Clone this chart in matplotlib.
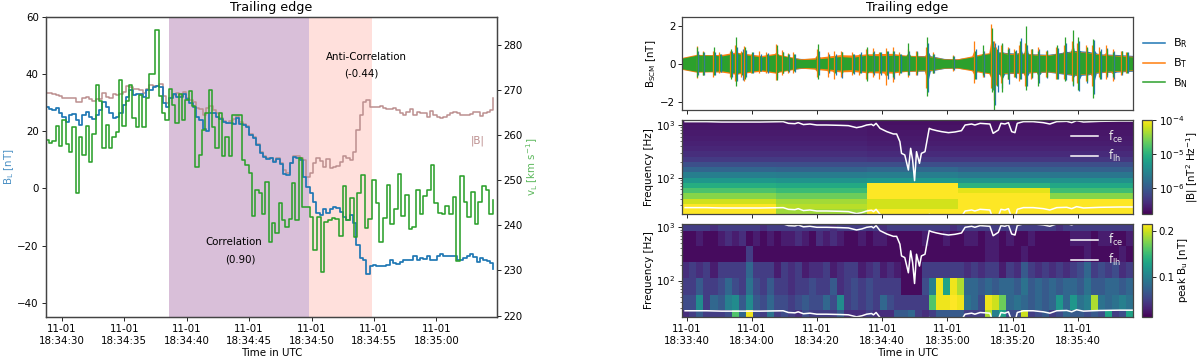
import numpy as np
import matplotlib
matplotlib.use("Agg")
import matplotlib.pyplot as plt
import matplotlib.dates as mdates
from matplotlib.colors import LogNorm, Normalize

# ---------- left panel data (seconds after 18:34:00) ----------
B_L = [28.6,27.7,27.5,28,26.3,24.9,23.4,25.7,25.9,23.9,22.2,25.7,26.9,25.1,24.2,25.7,27.4,30.4,28.6,26.3,
       24.5,25.1,26.3,29.2,32.1,34.4,32.7,32.9,33,32.1,34.4,34.6,35.6,35.8,35.4,29.8,28.4,31.5,32.9,32.1,
       31.9,32.9,31.2,30,28.6,25.1,23.9,20.7,20.2,26.3,26.3,25.1,24.3,23.1,22.8,23,22.5,24.5,22.5,22.1,
       21.6,18.7,17.8,15.2,12.5,11.1,10.2,10.5,9.4,10.2,8.6,5.1,4.7,8.8,10.9,10.8,10,
       4.1,0.6,-1.7,-4.6,-8.7,-9.3,-7.3,-8.7,-7.3,-6.4,-7,-8.1,-9.9,-11,-9.3,-12.2,-19.8,-24.4,-25.2,-29.9,
       -27.1,-26.9,-27,-27.1,-27,-26.8,-25.2,-26.2,-26.4,-25.6,-25,-25,-25.2,-23.6,-25,-24.4,-24.7,-23.8,-25,
       -25.2,-23.6,-23.1,-23.6,-23.8,-23.8,-23.6,-25,-25.2,-24.4,-23.6,-23.1,-24,-25.6,-24.4,-25,-25.5,-26,-28.3]
B_mag = [33.3,33.3,32.9,32.7,32.3,31.8,31.5,31.5,31.8,30.3,30.3,31.8,31.9,31.3,30.7,31.3,31.3,33.5,31.9,31.5,
         33,32.7,32.9,33.8,35.8,35.4,34.7,34.7,34.4,33.5,34.7,36.2,35.9,35.9,36.5,32.3,29.8,31.5,32.7,33.3,
         32.4,33.6,31.5,30.9,30.3,28,27.7,25.7,28.3,28.8,27.4,26.3,24.5,23.7,23,23.7,24.2,25.3,23.4,22.5,
         21.8,18.9,18.1,15.5,12.9,11.4,10.5,10.7,9.7,10.5,8.8,6.5,5.5,9,11.4,11.5,10.5,
         9.9,4.1,5.3,8.8,10.5,9.6,7.6,10.2,7.3,7.6,8,9.1,11.5,10.5,10,12.9,20.4,25.7,30.3,30.9,28.6,28.4,28.6,
         29,28,27.7,27.7,28,27.4,26.3,25.7,26.9,27.7,25.7,26.9,26.5,26.3,25.1,27.1,25.7,25.1,24.5,24.9,25.7,
         26.3,26.9,26.3,25.7,25.7,25.7,25.9,26.9,26.9,25.5,26.3,26.6,27.4,31.5]
v_L_a = [258.9,258.3,258.7,262,257.5,263.3,258,256.3,261.8,247.2,259.6,255.6,262,253.9,260.2,271,267.6,257,262.2,257,
         259.6,260.7,272.2,262,267.4,271,263.7,261.7,268.8,261.8,268.1,273.5,273.5,283.2,268.6,264.8,263.3,270.1,266.6,262.6,
         269.1,263.3,267.7,269.8,266.4,253,255.6,261.1,264.8,270,261.8,257,264.8,255.3,259.6,255.3,264.4,264.3,264.3,254.4,
         253.3,251.6,242.1,247.7,247.2,242.6,249.6,236.2,240.6,238.2,245,241.2,239.7,241.5,249.4,241.2]
v_L_b = [254.8,244.1,244.1,241.9,234.5,241.9,229.7,240.8,241.2,241.7,241.3,237.6,248.7,241.2,246,237.5,247.2,251.1,239.3,241.5,
         250,244.9,236.4,241.7,249,240.3,243.7,251.3,242.1,246.7,239.2,239.7,247.9,242.6,246.5,247.9,253.3,244.9,242.8,242.4,
         244.3,242.6,246.2,232.2,250.8,245.2,241.8,247.4,240.2,245.2,248.7,247.7,242.4,245.7]

# ---------- search-coil envelope (seconds after 18:33:40) ----------
core_t = [-1.3,3,7,11,15,19,23,27,31,35,39,43,47,51,55,59,63,67,71,75,79,83,87,91,95,99,103,107,111,115,119,123,127,131,135,137]
core_N = [.3,.45,.45,.42,.55,.45,.36,.48,.36,.22,.24,.3,.38,.34,.45,.42,.45,.42,.38,.36,.24,.22,.34,.48,.6,.5,.52,.46,.44,.55,.62,.58,.46,.42,.38,.36]
core_T = [.34,.5,.48,.5,.62,.52,.44,.55,.4,.26,.32,.4,.48,.46,.52,.54,.55,.46,.42,.4,.26,.26,.4,.55,.62,.55,.55,.5,.48,.56,.66,.6,.5,.46,.42,.4]
core_R = [.32,.46,.46,.46,.58,.5,.38,.48,.36,.28,.28,.34,.4,.36,.5,.48,.46,.44,.44,.42,.28,.26,.36,.5,.64,.58,.56,.52,.5,.6,.7,.66,.52,.5,.46,.44]
spike_t = [3.3,5.1,8.4,10.2,13.5,15.1,16.9,17.9,20,22.5,24.7,27.6,29.4,31.2,32.9,40.2,43.5,45.5,47.5,51,53.2,55.2,57.3,59.3,61.4,63.4,65.4,68,70.5,
           73.8,75.7,81.8,88.4,91,93.6,94.4,95.1,96.6,98.7,100.7,102.2,104.1,105.8,107.9,110.4,113.5,116,118.4,120.1,122.7,124.7,126.8,128.8,130.9,133.4,135]
N_up = [.9,.6,.9,.5,.8,1.4,.6,.9,.6,.4,.5,1.0,.6,.5,.5,1.05,.4,.4,.6,.5,.5,.9,.6,.6,.7,.7,.5,1.1,.6,1.4,.5,.4,.7,1.0,1.9,.9,.8,1.1,.8,.7,1.2,2.0,.8,.7,.7,1.0,1.4,1.8,1.4,.9,1.3,.7,.8,.6,.7,.6]
N_lo = [-.7,-.6,-.6,-.4,-.8,-1.2,-.6,-.8,-.5,-.4,-.4,-.85,-.5,-.4,-.4,-.8,-.4,-.5,-.5,-.5,-.5,-.9,-.5,-.5,-.6,-.7,-.5,-.6,-.5,-1.7,-.5,-.3,-.8,-.6,-1.5,-2.5,-1.2,-1.5,-.8,-.7,-.8,-1.4,-.7,-1.2,-.7,-.8,-.9,-1.1,-1.4,-.9,-1.8,-.8,-.6,-.7,-.5,-.5]
T_up = [.95,.7,.7,.6,.7,1.0,.7,.95,.5,.7,.6,1.05,.75,.55,.6,.8,.6,.7,.7,.6,.5,.8,.85,.6,.85,.9,.6,.8,.7,.9,.6,.45,1.2,.7,2.1,1.2,.9,1.0,.9,.8,1.0,1.1,.8,.9,.7,.9,1.0,1.2,1.1,1.0,1.0,.9,1.0,.8,.7,.6]
T_lo = [-.75,-.6,-.7,-.5,-.7,-.9,-.7,-.9,-.5,-.5,-.5,-.85,-.6,-.5,-.5,-.7,-.7,-.8,-.7,-.6,-.6,-.8,-.7,-.8,-1.15,-.95,-.6,-.7,-.6,-1.3,-.5,-.4,-1.0,-.7,-1.3,-1.9,-1.1,-1.0,-.8,-.7,-.9,-1.2,-.8,-.8,-.7,-.8,-.8,-.9,-1.0,-.9,-1.2,-.7,-.8,-.9,-.6,-.5]
R_up = [.7,.6,.6,.5,.7,.9,.8,.75,.6,.5,.55,.8,.6,.5,.5,.7,.5,.5,.6,.5,.6,.8,.7,.6,.7,.7,.5,.7,.7,1.1,.5,.4,.8,.7,1.2,1.1,1.0,1.05,.85,.75,1.35,1.0,.8,.8,.75,.85,1.1,1.0,1.2,.85,1.25,.8,.85,.7,.7,.6]
R_lo = [-.6,-.6,-.6,-.45,-.7,-.9,-.85,-.7,-.5,-.4,-.5,-.75,-.5,-.45,-.45,-.6,-.5,-.6,-.75,-.55,-.5,-.8,-.6,-.6,-.8,-.8,-.5,-.6,-.6,-1.5,-.5,-.35,-.8,-.7,-1.4,-2.2,-1.5,-1.3,-1.05,-.75,-.8,-1.2,-.75,-1.0,-.75,-.8,-.85,-1.2,-1.45,-1.0,-1.6,-.8,-.7,-.8,-.6,-.5]
labels_scm = ["B$_{\\mathrm{R}}$", "B$_{\\mathrm{T}}$", "B$_{\\mathrm{N}}$"]

# ---------- PSD spectrogram: log10 power [nT^2/Hz], rows top to bottom, one list per time block ----------
psd_block_edges = [-1.35,27.4,55.4,83.3,111.4,137.0]
psd_freq_edges = [1245,990,787,626,498,396,315,250,199,158,126,100,79.6,63.3,50.3,40,31.8,25.3,20.2]
psd_block1 = [-6.63,-6.6,-6.58,-6.55,-6.52,-6.47,-6.41,-6.3,-6.1,-5.88,-5.6,-5.3,-5.05,-4.78,-4.5,-4.2,-4.0,-4.0]
psd_block2 = [-6.63,-6.6,-6.58,-6.55,-6.52,-6.47,-6.41,-6.3,-6.12,-5.9,-5.62,-5.35,-5.1,-4.88,-4.62,-4.38,-4.3,-4.39]
psd_block3 = [-6.66,-6.63,-6.6,-6.58,-6.55,-6.5,-6.44,-6.33,-6.12,-5.85,-5.6,-5.3,-4.0,-4.0,-4.0,-4.19,-4.19,-4.0]
psd_block4 = [-6.66,-6.63,-6.6,-6.58,-6.55,-6.5,-6.44,-6.33,-6.12,-5.92,-5.65,-5.35,-5.0,-4.11,-4.0,-4.0,-4.0,-4.0]
psd_block5 = [-6.66,-6.63,-6.6,-6.58,-6.55,-6.5,-6.44,-6.33,-6.12,-5.92,-5.68,-5.38,-5.12,-4.85,-4.5,-4.0,-4.0,-4.0]

# ---------- peak amplitude spectrogram: hundredths of nT, rows top to bottom ----------
peak_freq_edges = [1153,851,437,219,111,54,27.5,20.4]
peak_A = [5,5,5,5,4,5,5,5,5,5,5,4,5,5,5,5,5,5,5,5,5,4,5,5,5,5,5,5,4,5,5,5,5,5,5,5,5,5,4,5,5,5,5,5,5,5,5,5,5,5,5,5,5,4,5,5,5,5,5,5,5,5,5,5]
peak_B = [2,2,3,2,2,3,4,3,4,2,3,2,3,2,3,3,4,3,2,4,3,4,3,2,2,3,2,3,3,2,2,2,2,2,3,2,2,3,2,2,3,3,2,3,3,2,3,2,2,3,2,2,2,2,2,3,3,3,2,3,3,2,2,3]
peak_C = [2,2,2,2,2,2,2,2,2,5,2,2,2,2,2,2,2,2,2,2,2,2,2,2,2,2,2,2,2,2,2,2,2,2,2,2,2,2,2,2,2,2,2,3,3,2,2,2,3,2,2,2,2,2,2,2,2,3,2,2,2,2,3,2]
peak_D = [4,5,4,5,3,5,5,5,5,8,5,5,5,3,5,4,5,3,4,4,5,3,4,5,5,3,4,5,3,4,3,2,2,2,5,5,5,5,5,5,4,5,4,5,5,3,5,4,7,5,4,5,4,5,4,5,6,8,5,6,5,6,4,5]
peak_E = [5,5,7,5,5,6,8,6,5,9,6,5,7,5,5,4,5,5,6,5,5,7,4,5,6,5,6,5,5,5,5,2,2,2,6,10,21,13,21,19,8,8,7,8,7,8,8,7,9,7,8,7,8,7,8,8,7,9,7,7,8,8,7,8]
peak_F = [6,6,11,5,8,7,10,11,7,11,7,6,8,6,6,5,6,7,6,6,8,6,11,5,6,5,6,5,8,6,5,5,5,5,5,16,21,21,22,21,9,8,6,21,20,17,8,9,8,7,8,7,8,12,8,12,9,10,19,9,8,9,10,9]
peak_G = [4,5,7,5,5,5,6,16,8,21,6,5,9,5,6,5,4,6,5,5,5,5,7,4,4,4,5,4,4,4,7,7,8,5,4,5,7,7,7,7,5,5,5,19,10,13,6,6,20,5,6,7,5,6,8,7,7,6,7,6,13,5,6,13]

# ---------- characteristic frequencies ----------
f_t = [-0.5,6.1,10.7,16.4,22.5,29.6,31.2,33.2,34.2,35.8,37.8,39.9,42.9,47,49.6,52.1,53.7,55.2,56.7,57.3,58.1,59.3,61.4,63.4,64.4,
       65.4,65.9,66.9,68,68.7,69.3,69.9,70.5,71.4,72,73.1,74.4,75.1,76.7,78.2,80.3,82.3,84.3,85.4,87.4,88.4,90,93,94,95.6,96.4,
       97.6,98.7,99.7,100.7,101.4,103.3,106.3,109.4,111.4,113.5,116.6,118.1,119.6,121.7,126.8,132.9,137]
f_ce = [1159,1159,1141,1141,1141,1159,1076,1060,1108,1020,1045,1000,1000,986,973,891,931,1000,1030,973,1076,865,748,676,676,
        483,290,270,140,361,217,88,312,187,290,312,865,828,782,748,716,738,782,1000,1045,1000,1076,1045,695,804,1076,
        1045,1108,748,716,1076,1159,1159,1108,1045,1159,1175,1108,1210,1141,1175,1191,1191]
ce_label, lh_label = "f$_{\\mathrm{ce}}$", "f$_{\\mathrm{lh}}$"
flh_ratio = 42.85

plt.rcParams.update({"font.size": 7.4, "font.family": "DejaVu Sans", "axes.linewidth": 0.9,
                     "axes.edgecolor": "#444444", "xtick.major.size": 2.6, "ytick.major.size": 2.6,
                     "xtick.minor.size": 1.5, "ytick.minor.size": 1.5, "xtick.major.width": 0.6,
                     "ytick.major.width": 0.6, "xtick.minor.width": 0.4, "ytick.minor.width": 0.4,
                     "xtick.major.pad": 2.4, "ytick.major.pad": 2.4})

W, H = 1200, 359
fig = plt.figure(figsize=(12, 3.59), dpi=100)
def rect(x0, y0, x1, y1):
    return [x0 / W, 1 - y1 / H, (x1 - x0) / W, (y1 - y0) / H]
def ftext(x, y, s, **k):
    fig.text(x / W, 1 - y / H, s, ha=k.pop("ha", "center"), va=k.pop("va", "center"), **k)

base_L = mdates.date2num(np.datetime64("2018-11-01T18:34:00"))
base_R = mdates.date2num(np.datetime64("2018-11-01T18:33:40"))
def dL(s): return base_L + np.asarray(s, dtype=float) / 86400.0
def dR(s): return base_R + np.asarray(s, dtype=float) / 86400.0
fmt = mdates.DateFormatter("%m-%d\n%H:%M:%S")

# ---------- left ----------
ax = fig.add_axes(rect(45.7, 17, 496.7, 317))
ax.axvspan(dL(38.6), dL(49.8), color="#d9bfd9", lw=0)
ax.axvspan(dL(49.8), dL(54.85), color="#ffe0dc", lw=0)
tB = np.linspace(28.7, 64.84, len(B_L) + 1)[:-1]
tM = np.linspace(28.7, 64.84, len(B_mag) + 1)[:-1]
ax.step(dL(tM), B_mag, where="post", color="rosybrown", lw=1.1)
ax.step(dL(tB), B_L, where="post", color="tab:blue", lw=1.25)
ax.set_ylim(-45, 60)
ax.set_xlim(dL(28.7), dL(64.84))
ax.xaxis.set_major_locator(mdates.SecondLocator(bysecond=range(0, 60, 5)))
ax.xaxis.set_major_formatter(fmt)
ax.set_yticks([-40, -20, 0, 20, 40, 60])
axr = ax.twinx()
tV = np.concatenate([np.linspace(28.7, 48.96, len(v_L_a) + 1)[:-1], np.linspace(48.96, 64.84, len(v_L_b) + 1)[:-1]])
axr.step(dL(tV), v_L_a + v_L_b, where="post", color="tab:green", lw=1.15)
axr.set_ylim(219.7, 286.1)
axr.set_yticks([220, 230, 240, 250, 260, 270, 280])
ftext(9, 167, "B$_{\\mathrm{L}}$ [nT]", rotation=90, color="#4a90c4")
ftext(532, 167, "v$_{\\mathrm{L}}$ [km s$^{-1}$]", rotation=90, color="#5cb85c")
ftext(478, 141, "|B|", color="rosybrown")
ftext(271.5, 353, "Time in UTC")
ftext(271, 8, "Trailing edge", fontsize=9.2)
ftext(366, 56.7, "Anti-Correlation")
ftext(361, 73.5, "(-0.44)")
ftext(234, 242, "Correlation")
ftext(240, 259, "(0.90)")

# ---------- right top ----------
xl = (dR(-1.35), dR(137.0))
a1 = fig.add_axes(rect(682.3, 16.7, 1133.3, 110))
series = [(core_R, R_up, R_lo, "tab:blue", 0.25), (core_T, T_up, T_lo, "tab:orange", -0.25), (core_N, N_up, N_lo, "tab:green", 0.0)]
for (core, up, lo, col, off), lab in zip(series, labels_scm):
    st = np.asarray(spike_t) + off
    # envelope: the core between bursts, rising to each burst's peak over a short flank
    xs = np.sort(np.concatenate([core_t, st - 0.7, st + 0.7, st]))
    cu = np.interp(xs, core_t, core)
    ex_up, ex_lo = cu.copy(), -0.9 * cu
    for s, u, l in zip(st, up, lo):
        i = np.argmin(np.abs(xs - s))
        ex_up[i] = max(ex_up[i], 0.6 * u)
        ex_lo[i] = min(ex_lo[i], 0.6 * l)
    a1.fill_between(dR(xs), ex_lo, ex_up, color=col, lw=0)
    a1.vlines(dR(st), lo, up, color=col, lw=0.9)
    a1.plot([], [], color=col, lw=1.1, label=lab)
a1.set_ylim(-2.45, 2.49)
a1.set_yticks([-2, 0, 2])
a1.set_xlim(*xl)
a1.legend(loc="center left", bbox_to_anchor=(1.0, 0.5), frameon=False, fontsize=8,
          labelspacing=0.55, handlelength=2.0, handletextpad=0.7, borderpad=0, borderaxespad=0.85)
ftext(651, 63.5, "B$_{\\mathrm{SCM}}$ [nT]", rotation=90)
ftext(907.5, 8, "Trailing edge", fontsize=9.2)

# ---------- right middle ----------
a2 = fig.add_axes(rect(682.3, 120, 1133.3, 214.3))
psd = 10.0 ** np.array([psd_block1, psd_block2, psd_block3, psd_block4, psd_block5]).T
m2 = a2.pcolormesh(dR(psd_block_edges), psd_freq_edges, psd, cmap="viridis",
                   norm=LogNorm(vmin=10 ** -6.77, vmax=1e-4), shading="flat")
a3 = fig.add_axes(rect(682.3, 224, 1133.3, 317.3))
peak = np.array([peak_A, peak_B, peak_C, peak_D, peak_E, peak_F, peak_G], dtype=float) / 100.0
peak_edges = np.linspace(-1.35, 137.0, peak.shape[1] + 1)
m3 = a3.pcolormesh(dR(peak_edges), peak_freq_edges, peak, cmap="viridis",
                   norm=Normalize(vmin=0.014, vmax=0.215), shading="flat")
for a, yl, yc in ((a2, (20.2, 1245), 167), (a3, (20.4, 1153), 270)):
    a.set_yscale("log")
    a.set_ylim(*yl)
    a.set_xlim(*xl)
    fce = np.asarray(f_ce, dtype=float)
    a.plot(dR(f_t), fce, color="white", lw=1.1, label=ce_label)
    a.plot(dR(f_t), fce / flh_ratio, color="white", lw=1.1, label=lh_label)
    ftext(649, yc, "Frequency [Hz]", rotation=90)
    leg = a.legend(loc="upper left", bbox_to_anchor=(0.862, 0.91), frameon=False, fontsize=8.5,
                   labelspacing=0.3, handlelength=2.3, handletextpad=0.8, borderpad=0, borderaxespad=0)
    for tx in leg.get_texts():
        tx.set_color("#e8e8e8")
for a in (a1, a2, a3):
    a.xaxis.set_major_locator(mdates.SecondLocator(bysecond=[0, 20, 40]))
    a.xaxis.set_major_formatter(fmt)
for a in (a1, a2):
    a.tick_params(labelbottom=False)
ftext(908, 353, "Time in UTC")

cb2 = fig.add_axes(rect(1142, 120, 1151.7, 214.3))
c2 = fig.colorbar(m2, cax=cb2)
c2.set_ticks([1e-6, 1e-5, 1e-4])
c2.ax.minorticks_off()
ftext(1192, 167, "|B| [nT$^{2}$ Hz$^{-1}$]", rotation=90)
cb3 = fig.add_axes(rect(1142, 224, 1151.7, 317.3))
c3 = fig.colorbar(m3, cax=cb3)
c3.set_ticks([0.1, 0.2])
ftext(1183, 270.5, "peak B$_{\\mathrm{u}}$ [nT]", rotation=90)

fig.savefig("out.png", dpi=100)
